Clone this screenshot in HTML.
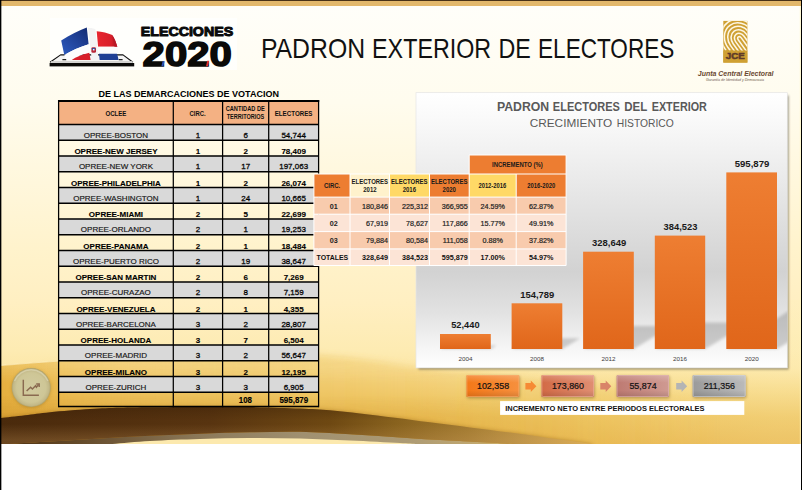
<!DOCTYPE html>
<html><head><meta charset="utf-8"><title>Padron Exterior de Electores</title>
<style>
html,body{margin:0;padding:0;background:#fff;}
body{width:802px;height:490px;overflow:hidden;position:relative;font-family:"Liberation Sans",sans-serif;}
svg{position:absolute;left:0;top:0;display:block;}
text{font-family:"Liberation Sans",sans-serif;}
</style></head><body>
<svg width="802" height="490" viewBox="0 0 802 490">
<defs>
<linearGradient id="bg" gradientUnits="userSpaceOnUse" x1="0" y1="0" x2="0" y2="444">
 <stop offset="0" stop-color="#fffefa"/>
 <stop offset="0.23" stop-color="#fffcee"/>
 <stop offset="0.45" stop-color="#fff6d8"/>
 <stop offset="0.56" stop-color="#fff3cc"/>
 <stop offset="0.68" stop-color="#ffefc2"/>
 <stop offset="0.79" stop-color="#fdebb2"/>
 <stop offset="0.83" stop-color="#fce7a8"/>
 <stop offset="0.88" stop-color="#f5d682"/>
 <stop offset="0.94" stop-color="#ecc058"/>
 <stop offset="1" stop-color="#e6b246"/>
</linearGradient>
<linearGradient id="bgr" gradientUnits="userSpaceOnUse" x1="0" y1="0" x2="801" y2="0">
 <stop offset="0.5" stop-color="#fff0b8" stop-opacity="0"/>
 <stop offset="0.97" stop-color="#fff0b8" stop-opacity="0.28"/>
 <stop offset="1" stop-color="#fff0b8" stop-opacity="0.28"/>
</linearGradient>
<linearGradient id="gold" gradientUnits="userSpaceOnUse" x1="0" y1="0" x2="720" y2="0">
 <stop offset="0" stop-color="#e4ad3c" stop-opacity="0.95"/>
 <stop offset="0.083" stop-color="#e6b040" stop-opacity="0.8"/>
 <stop offset="0.42" stop-color="#e8b648" stop-opacity="0.5"/>
 <stop offset="0.6" stop-color="#e9b84a" stop-opacity="0.34"/>
 <stop offset="0.85" stop-color="#e9b84a" stop-opacity="0.18"/>
 <stop offset="1" stop-color="#e9b84a" stop-opacity="0"/>
</linearGradient>
<linearGradient id="gmg" gradientUnits="userSpaceOnUse" x1="0" y1="0" x2="600" y2="0">
 <stop offset="0" stop-color="#fff"/><stop offset="0.5" stop-color="#999"/><stop offset="1" stop-color="#000"/>
</linearGradient>
<linearGradient id="goldv" gradientUnits="userSpaceOnUse" x1="0" y1="360" x2="0" y2="418">
 <stop offset="0" stop-color="#fff0b0" stop-opacity="0.35"/>
 <stop offset="0.4" stop-color="#fff0b0" stop-opacity="0"/>
 <stop offset="0.6" stop-color="#b87818" stop-opacity="0"/>
 <stop offset="1" stop-color="#b87818" stop-opacity="0.3"/>
</linearGradient>
<linearGradient id="swoosh" gradientUnits="userSpaceOnUse" x1="0" y1="0" x2="600" y2="0">
 <stop offset="0" stop-color="#4a2a0c"/>
 <stop offset="0.35" stop-color="#583410"/>
 <stop offset="0.55" stop-color="#6e4812"/>
 <stop offset="0.66" stop-color="#88621e"/>
 <stop offset="0.78" stop-color="#a27a30"/>
 <stop offset="0.9" stop-color="#c49a48"/>
 <stop offset="1" stop-color="#e2b454"/>
</linearGradient>
<linearGradient id="under" gradientUnits="userSpaceOnUse" x1="0" y1="0" x2="520" y2="0">
 <stop offset="0" stop-color="#4e300f"/>
 <stop offset="0.15" stop-color="#644a2a"/>
 <stop offset="0.38" stop-color="#8b7858"/>
 <stop offset="0.58" stop-color="#a09070"/>
 <stop offset="0.78" stop-color="#ac9a74"/>
 <stop offset="0.9" stop-color="#bea670"/>
 <stop offset="1" stop-color="#d4b060"/>
</linearGradient>
<linearGradient id="swooshv" gradientUnits="userSpaceOnUse" x1="0" y1="408" x2="0" y2="440">
 <stop offset="0" stop-color="#2a1400" stop-opacity="0.25"/>
 <stop offset="0.4" stop-color="#2a1400" stop-opacity="0"/>
 <stop offset="0.5" stop-color="#d0a060" stop-opacity="0"/>
 <stop offset="1" stop-color="#d0a060" stop-opacity="0.25"/>
</linearGradient>
<linearGradient id="panel" x1="0" y1="0" x2="0" y2="1">
 <stop offset="0" stop-color="#ffffff"/>
 <stop offset="0.12" stop-color="#f8f8f8"/>
 <stop offset="0.4" stop-color="#e4e4e4"/>
 <stop offset="0.65" stop-color="#d2d2d2"/>
 <stop offset="0.8" stop-color="#e2e2e2"/>
 <stop offset="0.93" stop-color="#f6f6f6"/>
 <stop offset="1" stop-color="#ffffff"/>
</linearGradient>
<linearGradient id="fb" x1="0" y1="1" x2="1" y2="0"><stop offset="0" stop-color="#2e5cc0"/><stop offset="0.6" stop-color="#1f3f94"/><stop offset="1" stop-color="#122a70"/></linearGradient>
<linearGradient id="fr" x1="0" y1="0" x2="1" y2="0"><stop offset="0" stop-color="#e8252f"/><stop offset="0.7" stop-color="#d81f2a"/><stop offset="1" stop-color="#a8141e"/></linearGradient>
<linearGradient id="bar" x1="0" y1="0" x2="0" y2="1">
 <stop offset="0" stop-color="#ee7e32"/>
 <stop offset="1" stop-color="#e0661a"/>
</linearGradient>
<filter id="blur2" x="-20%" y="-20%" width="140%" height="140%"><feGaussianBlur stdDeviation="2"/></filter>
<filter id="blur09" x="-5%" y="-5%" width="110%" height="110%"><feGaussianBlur stdDeviation="0.9"/></filter>
<filter id="blur1" x="-20%" y="-30%" width="140%" height="160%"><feGaussianBlur stdDeviation="1.4"/></filter>
<filter id="blur3" x="-5%" y="-20%" width="110%" height="140%"><feGaussianBlur stdDeviation="3.2"/></filter>
</defs>

<clipPath id="slide"><rect x="1" y="0" width="800" height="444"/></clipPath>
<g clip-path="url(#slide)">
<rect x="1" y="0" width="800" height="444" fill="url(#bg)"/>
<rect x="1" y="300" width="800" height="144" fill="url(#bgr)"/>
<linearGradient id="mAg" gradientUnits="userSpaceOnUse" x1="40" y1="0" x2="260" y2="0"><stop offset="0" stop-color="#000"/><stop offset="1" stop-color="#fff"/></linearGradient>
<linearGradient id="mBg" gradientUnits="userSpaceOnUse" x1="40" y1="0" x2="260" y2="0"><stop offset="0" stop-color="#fff"/><stop offset="1" stop-color="#000"/></linearGradient>
<mask id="mA"><rect x="0" y="330" width="802" height="130" fill="url(#mAg)"/></mask>
<mask id="mB"><rect x="0" y="330" width="802" height="130" fill="url(#mBg)"/></mask>
<g mask="url(#mA)"><path d="M-20,366.5 L1,365.4 C10.8,364.67 35.2,362.48 60.0,361.00 C84.8,359.52 118.3,357.58 150.0,356.50 C181.7,355.42 222.0,354.65 250.0,354.50 C278.0,354.35 298.0,354.60 318.0,355.60 C338.0,356.60 353.8,358.60 370.0,360.50 C386.2,362.40 397.0,364.83 415.0,367.00 C433.0,369.17 453.8,371.00 478.0,373.50 C502.2,376.00 533.0,378.92 560.0,382.00 C587.0,385.08 613.3,388.33 640.0,392.00 C666.7,395.67 706.7,402.00 720.0,404.00 L720,475 L-20,475 Z" fill="url(#gold)" filter="url(#blur3)"/></g>
<g mask="url(#mB)"><path d="M-20,366.5 L1,365.4 C10.8,364.67 35.2,362.48 60.0,361.00 C84.8,359.52 118.3,357.58 150.0,356.50 C181.7,355.42 222.0,354.65 250.0,354.50 C278.0,354.35 298.0,354.60 318.0,355.60 C338.0,356.60 353.8,358.60 370.0,360.50 C386.2,362.40 397.0,364.83 415.0,367.00 C433.0,369.17 453.8,371.00 478.0,373.50 C502.2,376.00 533.0,378.92 560.0,382.00 C587.0,385.08 613.3,388.33 640.0,392.00 C666.7,395.67 706.7,402.00 720.0,404.00 L720,475 L-20,475 Z" fill="url(#gold)"/></g>
<mask id="gm"><rect x="0" y="340" width="802" height="110" fill="url(#gmg)"/></mask>
<path d="M-20,366.5 L1,365.4 C10.8,364.67 35.2,362.48 60.0,361.00 C84.8,359.52 118.3,357.58 150.0,356.50 C181.7,355.42 222.0,354.65 250.0,354.50 C278.0,354.35 298.0,354.60 318.0,355.60 C338.0,356.60 353.8,358.60 370.0,360.50 C386.2,362.40 397.0,364.83 415.0,367.00 C433.0,369.17 453.8,371.00 478.0,373.50 C502.2,376.00 533.0,378.92 560.0,382.00 C587.0,385.08 613.3,388.33 640.0,392.00 C666.7,395.67 706.7,402.00 720.0,404.00 L720,475 L-20,475 Z" fill="url(#goldv)" opacity="0.9" mask="url(#gm)"/>
<path d="M1,365.4 C10.8,364.67 35.2,362.48 60.0,361.00 C84.8,359.52 118.3,357.58 150.0,356.50 C181.7,355.42 222.0,354.65 250.0,354.50 C278.0,354.35 298.0,354.60 318.0,355.60 C338.0,356.60 353.8,358.60 370.0,360.50 C386.2,362.40 397.0,364.83 415.0,367.00 C433.0,369.17 453.8,371.00 478.0,373.50 C502.2,376.00 533.0,378.92 560.0,382.00 C587.0,385.08 613.3,388.33 640.0,392.00 C666.7,395.67 706.7,402.00 720.0,404.00" fill="none" stroke="#fff6d0" stroke-opacity="0.55" stroke-width="1.2" mask="url(#mB)"/>
<path d="M1,418 C5.0,417.53 16.8,416.17 25.0,415.20 C33.2,414.23 39.2,413.23 50.0,412.20 C60.8,411.17 78.3,409.73 90.0,409.00 C101.7,408.27 110.0,408.08 120.0,407.80 C130.0,407.52 136.7,407.43 150.0,407.30 C163.3,407.17 183.3,407.03 200.0,407.00 C216.7,406.97 233.3,406.83 250.0,407.10 C266.7,407.37 286.7,408.07 300.0,408.60 C313.3,409.13 320.0,409.50 330.0,410.30 C340.0,411.10 349.2,412.17 360.0,413.40 C370.8,414.63 383.3,416.22 395.0,417.70 C406.7,419.18 417.5,420.68 430.0,422.30 C442.5,423.92 456.7,425.68 470.0,427.40 C483.3,429.12 497.5,430.93 510.0,432.60 C522.5,434.27 535.0,436.03 545.0,437.40 C555.0,438.77 562.2,439.70 570.0,440.80 C577.8,441.90 588.3,443.47 592.0,444.00 L592,460 L1,460 Z" fill="#7a4a10" opacity="0.4" filter="url(#blur2)"/>
<path d="M1,444.5 C9.2,444.02 33.5,442.60 50.0,441.60 C66.5,440.60 83.3,439.47 100.0,438.50 C116.7,437.53 133.3,436.60 150.0,435.80 C166.7,435.00 183.3,434.28 200.0,433.70 C216.7,433.12 233.3,432.62 250.0,432.30 C266.7,431.98 283.3,431.48 300.0,431.80 C316.7,432.12 333.3,433.27 350.0,434.20 C366.7,435.13 383.3,436.33 400.0,437.40 C416.7,438.47 433.3,439.63 450.0,440.60 C466.7,441.57 488.3,442.60 500.0,443.20 C511.7,443.80 516.7,444.03 520.0,444.20 L520,446 L1,446 Z" fill="url(#under)"/>
<path d="M110,444.2 C116.7,443.67 135.0,441.87 150.0,441.00 C165.0,440.13 183.3,439.50 200.0,439.00 C216.7,438.50 233.3,438.08 250.0,438.00 C266.7,437.92 283.3,438.08 300.0,438.50 C316.7,438.92 333.3,439.75 350.0,440.50 C366.7,441.25 388.3,442.38 400.0,443.00 C411.7,443.62 416.7,444.00 420.0,444.20 L420,446 L110,446 Z" fill="#fce9ae"/>
<path d="M1,418 C5.0,417.53 16.8,416.17 25.0,415.20 C33.2,414.23 39.2,413.23 50.0,412.20 C60.8,411.17 78.3,409.73 90.0,409.00 C101.7,408.27 110.0,408.08 120.0,407.80 C130.0,407.52 136.7,407.43 150.0,407.30 C163.3,407.17 183.3,407.03 200.0,407.00 C216.7,406.97 233.3,406.83 250.0,407.10 C266.7,407.37 286.7,408.07 300.0,408.60 C313.3,409.13 320.0,409.50 330.0,410.30 C340.0,411.10 349.2,412.17 360.0,413.40 C370.8,414.63 383.3,416.22 395.0,417.70 C406.7,419.18 417.5,420.68 430.0,422.30 C442.5,423.92 456.7,425.68 470.0,427.40 C483.3,429.12 497.5,430.93 510.0,432.60 C522.5,434.27 535.0,436.03 545.0,437.40 C555.0,438.77 562.2,439.70 570.0,440.80 C577.8,441.90 588.3,443.47 592.0,444.00 L520,444.2 C516.7,444.03 511.7,443.80 500.0,443.20 C488.3,442.60 466.7,441.57 450.0,440.60 C433.3,439.63 416.7,438.47 400.0,437.40 C383.3,436.33 366.7,435.13 350.0,434.20 C333.3,433.27 316.7,432.12 300.0,431.80 C283.3,431.48 266.7,431.98 250.0,432.30 C233.3,432.62 216.7,433.12 200.0,433.70 C183.3,434.28 166.7,435.00 150.0,435.80 C133.3,436.60 116.7,437.53 100.0,438.50 C83.3,439.47 66.5,440.60 50.0,441.60 C33.5,442.60 9.2,444.02 1.0,444.50 Z" fill="url(#swoosh)"/>
<path d="M1,418 C5.0,417.53 16.8,416.17 25.0,415.20 C33.2,414.23 39.2,413.23 50.0,412.20 C60.8,411.17 78.3,409.73 90.0,409.00 C101.7,408.27 110.0,408.08 120.0,407.80 C130.0,407.52 136.7,407.43 150.0,407.30 C163.3,407.17 183.3,407.03 200.0,407.00 C216.7,406.97 233.3,406.83 250.0,407.10 C266.7,407.37 286.7,408.07 300.0,408.60 C313.3,409.13 320.0,409.50 330.0,410.30 C340.0,411.10 349.2,412.17 360.0,413.40 C370.8,414.63 383.3,416.22 395.0,417.70 C406.7,419.18 417.5,420.68 430.0,422.30 C442.5,423.92 456.7,425.68 470.0,427.40 C483.3,429.12 497.5,430.93 510.0,432.60 C522.5,434.27 535.0,436.03 545.0,437.40 C555.0,438.77 562.2,439.70 570.0,440.80 C577.8,441.90 588.3,443.47 592.0,444.00 L520,444.2 C516.7,444.03 511.7,443.80 500.0,443.20 C488.3,442.60 466.7,441.57 450.0,440.60 C433.3,439.63 416.7,438.47 400.0,437.40 C383.3,436.33 366.7,435.13 350.0,434.20 C333.3,433.27 316.7,432.12 300.0,431.80 C283.3,431.48 266.7,431.98 250.0,432.30 C233.3,432.62 216.7,433.12 200.0,433.70 C183.3,434.28 166.7,435.00 150.0,435.80 C133.3,436.60 116.7,437.53 100.0,438.50 C83.3,439.47 66.5,440.60 50.0,441.60 C33.5,442.60 9.2,444.02 1.0,444.50 Z" fill="url(#swooshv)"/>
</g>
<rect x="1" y="0" width="800" height="6" fill="#e3b86c"/>
<rect x="1" y="0" width="800" height="1" fill="#4a3218"/>
<rect x="799.8" y="6" width="1.2" height="438" fill="#fff6c0" opacity="0.6"/>
<rect x="0" y="0" width="1.35" height="490" fill="#000"/>
<rect x="801" y="0" width="1" height="490" fill="#000"/>
<text x="260.90" y="57.8" font-size="27.2" text-anchor="start" font-weight="normal" fill="#111" textLength="104.18" lengthAdjust="spacingAndGlyphs">PADRON</text>
<text x="372.09" y="57.8" font-size="27.2" text-anchor="start" font-weight="normal" fill="#111" textLength="119.09" lengthAdjust="spacingAndGlyphs">EXTERIOR</text>
<text x="498.59" y="57.8" font-size="27.2" text-anchor="start" font-weight="normal" fill="#111" textLength="32.31" lengthAdjust="spacingAndGlyphs">DE</text>
<text x="538.05" y="57.8" font-size="27.2" text-anchor="start" font-weight="normal" fill="#111" textLength="136.28" lengthAdjust="spacingAndGlyphs">ELECTORES</text>
<rect x="418.5" y="95.5" width="370.2" height="274" fill="#3a3420" opacity="0.5" filter="url(#blur09)"/>
<rect x="416" y="92.7" width="371.3" height="275.2" fill="url(#panel)" stroke="#e4e4e4" stroke-width="0.7"/>
<text x="496.89" y="110.9" font-size="12.3" text-anchor="start" font-weight="bold" fill="#595959" textLength="52.32" lengthAdjust="spacingAndGlyphs">PADRON</text>
<text x="552.87" y="110.9" font-size="12.3" text-anchor="start" font-weight="bold" fill="#595959" textLength="67.06" lengthAdjust="spacingAndGlyphs">ELECTORES</text>
<text x="624.23" y="110.9" font-size="12.3" text-anchor="start" font-weight="bold" fill="#595959" textLength="23.02" lengthAdjust="spacingAndGlyphs">DEL</text>
<text x="651.68" y="110.9" font-size="12.3" text-anchor="start" font-weight="bold" fill="#595959" textLength="55.24" lengthAdjust="spacingAndGlyphs">EXTERIOR</text>
<text x="529.70" y="126.5" font-size="10.9" text-anchor="start" font-weight="normal" fill="#595959" textLength="82.46" lengthAdjust="spacingAndGlyphs">CRECIMIENTO</text>
<text x="616.76" y="126.5" font-size="10.9" text-anchor="start" font-weight="normal" fill="#595959" textLength="57.03" lengthAdjust="spacingAndGlyphs">HISTORICO</text>
<clipPath id="pc"><rect x="416" y="92.7" width="371.3" height="275.2"/></clipPath>
<g clip-path="url(#pc)"><g fill="#000" opacity="0.17" filter="url(#blur1)">
<path d="M440,349 L490.8,349 L496.6,345.5 L445.8,345.5 Z"/>
<path d="M511.6,349 L562.3,349 L580.0,338.3 L529.3,338.3 Z"/>
<path d="M583.1,349 L633.8,349 L671.5,326.1 L620.8,326.1 Z"/>
<path d="M654.8,349 L705.2,349 L749.2,322.4 L698.8,322.4 Z"/>
<path d="M726.3,349 L777,349 L845.5,307.5 L794.8,307.5 Z"/>
</g></g>
<rect x="440" y="334" width="50.80" height="15.00" fill="url(#bar)"/>
<text x="451.21" y="328.3" font-size="9.3" text-anchor="start" font-weight="bold" fill="#1a1a1a" textLength="28.37" lengthAdjust="spacingAndGlyphs">52,440</text>
<text x="465.4" y="361" font-size="6" text-anchor="middle" font-weight="normal" fill="#404040" textLength="14" lengthAdjust="spacingAndGlyphs">2004</text>
<rect x="511.6" y="303.3" width="50.70" height="45.70" fill="url(#bar)"/>
<text x="520.21" y="297.6" font-size="9.3" text-anchor="start" font-weight="bold" fill="#1a1a1a" textLength="34.04" lengthAdjust="spacingAndGlyphs">154,789</text>
<text x="536.95" y="361" font-size="6" text-anchor="middle" font-weight="normal" fill="#404040" textLength="14" lengthAdjust="spacingAndGlyphs">2008</text>
<rect x="583.1" y="251.7" width="50.70" height="97.30" fill="url(#bar)"/>
<text x="592.08" y="246.3" font-size="9.3" text-anchor="start" font-weight="bold" fill="#1a1a1a" textLength="34.17" lengthAdjust="spacingAndGlyphs">328,649</text>
<text x="608.45" y="361" font-size="6" text-anchor="middle" font-weight="normal" fill="#404040" textLength="14" lengthAdjust="spacingAndGlyphs">2012</text>
<rect x="654.8" y="235.6" width="50.40" height="113.40" fill="url(#bar)"/>
<text x="663.59" y="230" font-size="9.3" text-anchor="start" font-weight="bold" fill="#1a1a1a" textLength="33.75" lengthAdjust="spacingAndGlyphs">384,523</text>
<text x="680.0" y="361" font-size="6" text-anchor="middle" font-weight="normal" fill="#404040" textLength="14" lengthAdjust="spacingAndGlyphs">2016</text>
<rect x="726.3" y="172.4" width="50.70" height="176.60" fill="url(#bar)"/>
<text x="734.71" y="167.1" font-size="9.3" text-anchor="start" font-weight="bold" fill="#1a1a1a" textLength="34.65" lengthAdjust="spacingAndGlyphs">595,879</text>
<text x="751.65" y="361" font-size="6" text-anchor="middle" font-weight="normal" fill="#404040" textLength="14" lengthAdjust="spacingAndGlyphs">2020</text>
<text x="98.60" y="97" font-size="9.3" text-anchor="start" font-weight="bold" fill="#000" textLength="180.30" lengthAdjust="spacingAndGlyphs">DE LAS DEMARCACIONES DE VOTACION</text>
<rect x="58.6" y="101.0" width="260.0" height="23.400000000000006" fill="#f4b183"/>
<rect x="58.6" y="124.40" width="260.0" height="15.75" fill="#d9d9d9"/>
<rect x="58.6" y="155.90" width="260.0" height="15.75" fill="#d9d9d9"/>
<rect x="58.6" y="187.40" width="260.0" height="15.75" fill="#d9d9d9"/>
<rect x="58.6" y="218.90" width="260.0" height="15.75" fill="#d9d9d9"/>
<rect x="58.6" y="250.40" width="260.0" height="15.75" fill="#d9d9d9"/>
<rect x="58.6" y="281.90" width="260.0" height="15.75" fill="#d9d9d9"/>
<rect x="58.6" y="313.40" width="260.0" height="15.75" fill="#d9d9d9"/>
<rect x="58.6" y="344.90" width="260.0" height="15.75" fill="#d9d9d9"/>
<rect x="58.6" y="376.40" width="260.0" height="15.75" fill="#d9d9d9"/>
<g stroke="#000" stroke-width="1.5">
<line x1="58.6" y1="100.1" x2="58.6" y2="407.2" stroke-width="1.25"/>
<line x1="173.3" y1="100.1" x2="173.3" y2="407.2" stroke-width="1.25"/>
<line x1="222.6" y1="100.1" x2="222.6" y2="407.2" stroke-width="1.25"/>
<line x1="268.7" y1="100.1" x2="268.7" y2="407.2" stroke-width="1.25"/>
<line x1="318.6" y1="100.1" x2="318.6" y2="407.2" stroke-width="1.25"/>
<line x1="58.0" y1="101.0" x2="319.20000000000005" y2="101.0" stroke-width="1.8"/>
<line x1="58.6" y1="124.40" x2="318.6" y2="124.40"/>
<line x1="58.6" y1="140.15" x2="318.6" y2="140.15"/>
<line x1="58.6" y1="155.90" x2="318.6" y2="155.90"/>
<line x1="58.6" y1="171.65" x2="318.6" y2="171.65"/>
<line x1="58.6" y1="187.40" x2="318.6" y2="187.40"/>
<line x1="58.6" y1="203.15" x2="318.6" y2="203.15"/>
<line x1="58.6" y1="218.90" x2="318.6" y2="218.90"/>
<line x1="58.6" y1="234.65" x2="318.6" y2="234.65"/>
<line x1="58.6" y1="250.40" x2="318.6" y2="250.40"/>
<line x1="58.6" y1="266.15" x2="318.6" y2="266.15"/>
<line x1="58.6" y1="281.90" x2="318.6" y2="281.90"/>
<line x1="58.6" y1="297.65" x2="318.6" y2="297.65"/>
<line x1="58.6" y1="313.40" x2="318.6" y2="313.40"/>
<line x1="58.6" y1="329.15" x2="318.6" y2="329.15"/>
<line x1="58.6" y1="344.90" x2="318.6" y2="344.90"/>
<line x1="58.6" y1="360.65" x2="318.6" y2="360.65"/>
<line x1="58.6" y1="376.40" x2="318.6" y2="376.40"/>
<line x1="58.6" y1="392.15" x2="318.6" y2="392.15"/>
<line x1="58.6" y1="406.5" x2="318.6" y2="406.5"/>
</g>
<text x="105.45" y="115.9" font-size="7.3" text-anchor="start" font-weight="bold" fill="#111" textLength="20.99" lengthAdjust="spacingAndGlyphs">OCLEE</text>
<text x="189.56" y="115.9" font-size="7.3" text-anchor="start" font-weight="bold" fill="#111" textLength="16.05" lengthAdjust="spacingAndGlyphs">CIRC.</text>
<text x="225.67" y="110.9" font-size="6.5" text-anchor="start" font-weight="bold" fill="#111" textLength="39.16" lengthAdjust="spacingAndGlyphs">CANTIDAD DE</text>
<text x="226.64" y="119.4" font-size="6.5" text-anchor="start" font-weight="bold" fill="#111" textLength="37.68" lengthAdjust="spacingAndGlyphs">TERRITORIOS</text>
<text x="274.69" y="115.9" font-size="7.3" text-anchor="start" font-weight="bold" fill="#111" textLength="37.75" lengthAdjust="spacingAndGlyphs">ELECTORES</text>
<text x="115.95" y="137.65" font-size="8" text-anchor="middle" font-weight="normal" fill="#1c1c1c" stroke="#000" stroke-width="0.15">OPREE-BOSTON</text>
<text x="197.95" y="137.65" font-size="8" text-anchor="middle" font-weight="normal" fill="#1c1c1c" stroke="#000" stroke-width="0.3">1</text>
<text x="245.64999999999998" y="137.65" font-size="8" text-anchor="middle" font-weight="normal" fill="#1c1c1c" stroke="#000" stroke-width="0.3">6</text>
<text x="293.65" y="137.65" font-size="8" text-anchor="middle" font-weight="normal" fill="#1c1c1c" stroke="#000" stroke-width="0.3">54,744</text>
<text x="115.95" y="154.00" font-size="8" text-anchor="middle" font-weight="bold" fill="#000" stroke="#000" stroke-width="0.12">OPREE-NEW JERSEY</text>
<text x="197.95" y="154.00" font-size="8" text-anchor="middle" font-weight="bold" fill="#000" stroke="#000" stroke-width="0.12">1</text>
<text x="245.64999999999998" y="154.00" font-size="8" text-anchor="middle" font-weight="bold" fill="#000" stroke="#000" stroke-width="0.12">2</text>
<text x="293.65" y="154.00" font-size="8" text-anchor="middle" font-weight="bold" fill="#000" stroke="#000" stroke-width="0.12">78,409</text>
<text x="115.95" y="169.15" font-size="8" text-anchor="middle" font-weight="normal" fill="#1c1c1c" stroke="#000" stroke-width="0.15">OPREE-NEW YORK</text>
<text x="197.95" y="169.15" font-size="8" text-anchor="middle" font-weight="normal" fill="#1c1c1c" stroke="#000" stroke-width="0.3">1</text>
<text x="245.64999999999998" y="169.15" font-size="8" text-anchor="middle" font-weight="normal" fill="#1c1c1c" stroke="#000" stroke-width="0.3">17</text>
<text x="293.65" y="169.15" font-size="8" text-anchor="middle" font-weight="normal" fill="#1c1c1c" stroke="#000" stroke-width="0.3">197,063</text>
<text x="115.95" y="185.50" font-size="8" text-anchor="middle" font-weight="bold" fill="#000" stroke="#000" stroke-width="0.12">OPREE-PHILADELPHIA</text>
<text x="197.95" y="185.50" font-size="8" text-anchor="middle" font-weight="bold" fill="#000" stroke="#000" stroke-width="0.12">1</text>
<text x="245.64999999999998" y="185.50" font-size="8" text-anchor="middle" font-weight="bold" fill="#000" stroke="#000" stroke-width="0.12">2</text>
<text x="293.65" y="185.50" font-size="8" text-anchor="middle" font-weight="bold" fill="#000" stroke="#000" stroke-width="0.12">26,074</text>
<text x="115.95" y="200.65" font-size="8" text-anchor="middle" font-weight="normal" fill="#1c1c1c" stroke="#000" stroke-width="0.15">OPREE-WASHINGTON</text>
<text x="197.95" y="200.65" font-size="8" text-anchor="middle" font-weight="normal" fill="#1c1c1c" stroke="#000" stroke-width="0.3">1</text>
<text x="245.64999999999998" y="200.65" font-size="8" text-anchor="middle" font-weight="normal" fill="#1c1c1c" stroke="#000" stroke-width="0.3">24</text>
<text x="293.65" y="200.65" font-size="8" text-anchor="middle" font-weight="normal" fill="#1c1c1c" stroke="#000" stroke-width="0.3">10,665</text>
<text x="115.95" y="217.00" font-size="8" text-anchor="middle" font-weight="bold" fill="#000" stroke="#000" stroke-width="0.12">OPREE-MIAMI</text>
<text x="197.95" y="217.00" font-size="8" text-anchor="middle" font-weight="bold" fill="#000" stroke="#000" stroke-width="0.12">2</text>
<text x="245.64999999999998" y="217.00" font-size="8" text-anchor="middle" font-weight="bold" fill="#000" stroke="#000" stroke-width="0.12">5</text>
<text x="293.65" y="217.00" font-size="8" text-anchor="middle" font-weight="bold" fill="#000" stroke="#000" stroke-width="0.12">22,699</text>
<text x="115.95" y="232.15" font-size="8" text-anchor="middle" font-weight="normal" fill="#1c1c1c" stroke="#000" stroke-width="0.15">OPREE-ORLANDO</text>
<text x="197.95" y="232.15" font-size="8" text-anchor="middle" font-weight="normal" fill="#1c1c1c" stroke="#000" stroke-width="0.3">2</text>
<text x="245.64999999999998" y="232.15" font-size="8" text-anchor="middle" font-weight="normal" fill="#1c1c1c" stroke="#000" stroke-width="0.3">1</text>
<text x="293.65" y="232.15" font-size="8" text-anchor="middle" font-weight="normal" fill="#1c1c1c" stroke="#000" stroke-width="0.3">19,253</text>
<text x="115.95" y="248.50" font-size="8" text-anchor="middle" font-weight="bold" fill="#000" stroke="#000" stroke-width="0.12">OPREE-PANAMA</text>
<text x="197.95" y="248.50" font-size="8" text-anchor="middle" font-weight="bold" fill="#000" stroke="#000" stroke-width="0.12">2</text>
<text x="245.64999999999998" y="248.50" font-size="8" text-anchor="middle" font-weight="bold" fill="#000" stroke="#000" stroke-width="0.12">1</text>
<text x="293.65" y="248.50" font-size="8" text-anchor="middle" font-weight="bold" fill="#000" stroke="#000" stroke-width="0.12">18,484</text>
<text x="115.95" y="263.65" font-size="8" text-anchor="middle" font-weight="normal" fill="#1c1c1c" stroke="#000" stroke-width="0.15">OPREE-PUERTO RICO</text>
<text x="197.95" y="263.65" font-size="8" text-anchor="middle" font-weight="normal" fill="#1c1c1c" stroke="#000" stroke-width="0.3">2</text>
<text x="245.64999999999998" y="263.65" font-size="8" text-anchor="middle" font-weight="normal" fill="#1c1c1c" stroke="#000" stroke-width="0.3">19</text>
<text x="293.65" y="263.65" font-size="8" text-anchor="middle" font-weight="normal" fill="#1c1c1c" stroke="#000" stroke-width="0.3">38,647</text>
<text x="115.95" y="280.00" font-size="8" text-anchor="middle" font-weight="bold" fill="#000" stroke="#000" stroke-width="0.12">OPREE-SAN MARTIN</text>
<text x="197.95" y="280.00" font-size="8" text-anchor="middle" font-weight="bold" fill="#000" stroke="#000" stroke-width="0.12">2</text>
<text x="245.64999999999998" y="280.00" font-size="8" text-anchor="middle" font-weight="bold" fill="#000" stroke="#000" stroke-width="0.12">6</text>
<text x="293.65" y="280.00" font-size="8" text-anchor="middle" font-weight="bold" fill="#000" stroke="#000" stroke-width="0.12">7,269</text>
<text x="115.95" y="295.15" font-size="8" text-anchor="middle" font-weight="normal" fill="#1c1c1c" stroke="#000" stroke-width="0.15">OPREE-CURAZAO</text>
<text x="197.95" y="295.15" font-size="8" text-anchor="middle" font-weight="normal" fill="#1c1c1c" stroke="#000" stroke-width="0.3">2</text>
<text x="245.64999999999998" y="295.15" font-size="8" text-anchor="middle" font-weight="normal" fill="#1c1c1c" stroke="#000" stroke-width="0.3">8</text>
<text x="293.65" y="295.15" font-size="8" text-anchor="middle" font-weight="normal" fill="#1c1c1c" stroke="#000" stroke-width="0.3">7,159</text>
<text x="115.95" y="311.50" font-size="8" text-anchor="middle" font-weight="bold" fill="#000" stroke="#000" stroke-width="0.12">OPREE-VENEZUELA</text>
<text x="197.95" y="311.50" font-size="8" text-anchor="middle" font-weight="bold" fill="#000" stroke="#000" stroke-width="0.12">2</text>
<text x="245.64999999999998" y="311.50" font-size="8" text-anchor="middle" font-weight="bold" fill="#000" stroke="#000" stroke-width="0.12">1</text>
<text x="293.65" y="311.50" font-size="8" text-anchor="middle" font-weight="bold" fill="#000" stroke="#000" stroke-width="0.12">4,355</text>
<text x="115.95" y="326.65" font-size="8" text-anchor="middle" font-weight="normal" fill="#1c1c1c" stroke="#000" stroke-width="0.15">OPREE-BARCELONA</text>
<text x="197.95" y="326.65" font-size="8" text-anchor="middle" font-weight="normal" fill="#1c1c1c" stroke="#000" stroke-width="0.3">3</text>
<text x="245.64999999999998" y="326.65" font-size="8" text-anchor="middle" font-weight="normal" fill="#1c1c1c" stroke="#000" stroke-width="0.3">2</text>
<text x="293.65" y="326.65" font-size="8" text-anchor="middle" font-weight="normal" fill="#1c1c1c" stroke="#000" stroke-width="0.3">28,807</text>
<text x="115.95" y="343.00" font-size="8" text-anchor="middle" font-weight="bold" fill="#000" stroke="#000" stroke-width="0.12">OPREE-HOLANDA</text>
<text x="197.95" y="343.00" font-size="8" text-anchor="middle" font-weight="bold" fill="#000" stroke="#000" stroke-width="0.12">3</text>
<text x="245.64999999999998" y="343.00" font-size="8" text-anchor="middle" font-weight="bold" fill="#000" stroke="#000" stroke-width="0.12">7</text>
<text x="293.65" y="343.00" font-size="8" text-anchor="middle" font-weight="bold" fill="#000" stroke="#000" stroke-width="0.12">6,504</text>
<text x="115.95" y="358.15" font-size="8" text-anchor="middle" font-weight="normal" fill="#1c1c1c" stroke="#000" stroke-width="0.15">OPREE-MADRID</text>
<text x="197.95" y="358.15" font-size="8" text-anchor="middle" font-weight="normal" fill="#1c1c1c" stroke="#000" stroke-width="0.3">3</text>
<text x="245.64999999999998" y="358.15" font-size="8" text-anchor="middle" font-weight="normal" fill="#1c1c1c" stroke="#000" stroke-width="0.3">2</text>
<text x="293.65" y="358.15" font-size="8" text-anchor="middle" font-weight="normal" fill="#1c1c1c" stroke="#000" stroke-width="0.3">56,647</text>
<text x="115.95" y="374.50" font-size="8" text-anchor="middle" font-weight="bold" fill="#000" stroke="#000" stroke-width="0.12">OPREE-MILANO</text>
<text x="197.95" y="374.50" font-size="8" text-anchor="middle" font-weight="bold" fill="#000" stroke="#000" stroke-width="0.12">3</text>
<text x="245.64999999999998" y="374.50" font-size="8" text-anchor="middle" font-weight="bold" fill="#000" stroke="#000" stroke-width="0.12">2</text>
<text x="293.65" y="374.50" font-size="8" text-anchor="middle" font-weight="bold" fill="#000" stroke="#000" stroke-width="0.12">12,195</text>
<text x="115.95" y="389.65" font-size="8" text-anchor="middle" font-weight="normal" fill="#1c1c1c" stroke="#000" stroke-width="0.15">OPREE-ZURICH</text>
<text x="197.95" y="389.65" font-size="8" text-anchor="middle" font-weight="normal" fill="#1c1c1c" stroke="#000" stroke-width="0.3">3</text>
<text x="245.64999999999998" y="389.65" font-size="8" text-anchor="middle" font-weight="normal" fill="#1c1c1c" stroke="#000" stroke-width="0.3">3</text>
<text x="293.65" y="389.65" font-size="8" text-anchor="middle" font-weight="normal" fill="#1c1c1c" stroke="#000" stroke-width="0.3">6,905</text>
<text x="238.80" y="403.1" font-size="8.3" text-anchor="start" font-weight="bold" fill="#000" textLength="13.14" lengthAdjust="spacingAndGlyphs" stroke="#000" stroke-width="0.15">108</text>
<text x="279.46" y="403.1" font-size="8.3" text-anchor="start" font-weight="bold" fill="#000" textLength="28.74" lengthAdjust="spacingAndGlyphs" stroke="#000" stroke-width="0.15">595,879</text>
<rect x="469.2" y="155" width="96.90" height="19.00" fill="#ed7d31"/>
<rect x="313.9" y="174.0" width="36.10" height="23.10" fill="#ed7d31"/>
<rect x="350.0" y="174.0" width="39.50" height="23.10" fill="#fff2cc"/>
<rect x="389.5" y="174.0" width="40.00" height="23.10" fill="#ffd966"/>
<rect x="429.5" y="174.0" width="39.70" height="23.10" fill="#ed7d31"/>
<rect x="469.2" y="174.0" width="47.00" height="23.10" fill="#ffd966"/>
<rect x="516.2" y="174.0" width="49.90" height="23.10" fill="#ed7d31"/>
<rect x="313.9" y="197.1" width="252.20" height="17.10" fill="#f8cbad"/>
<rect x="313.9" y="214.2" width="252.20" height="17.40" fill="#fce4d6"/>
<rect x="313.9" y="231.6" width="252.20" height="17.30" fill="#f8cbad"/>
<rect x="313.9" y="248.9" width="252.20" height="16.60" fill="#fce4d6"/>
<g stroke="#fff" stroke-width="1">
<line x1="313.9" y1="174.0" x2="313.9" y2="265.5"/>
<line x1="350.0" y1="174.0" x2="350.0" y2="265.5"/>
<line x1="389.5" y1="174.0" x2="389.5" y2="265.5"/>
<line x1="429.5" y1="174.0" x2="429.5" y2="265.5"/>
<line x1="469.2" y1="155" x2="469.2" y2="265.5"/>
<line x1="516.2" y1="174.0" x2="516.2" y2="265.5"/>
<line x1="566.1" y1="155" x2="566.1" y2="265.5"/>
<line x1="313.9" y1="174.0" x2="566.1" y2="174.0"/>
<line x1="313.9" y1="197.1" x2="566.1" y2="197.1"/>
<line x1="313.9" y1="214.2" x2="566.1" y2="214.2"/>
<line x1="313.9" y1="231.6" x2="566.1" y2="231.6"/>
<line x1="313.9" y1="248.9" x2="566.1" y2="248.9"/>
<line x1="313.9" y1="265.5" x2="566.1" y2="265.5"/>
<line x1="469.2" y1="155" x2="566.1" y2="155"/>
</g>
<text x="492.10" y="167.2" font-size="6.9" text-anchor="start" font-weight="bold" fill="#1a1a1a" textLength="50.59" lengthAdjust="spacingAndGlyphs">INCREMENTO (%)</text>
<text x="323.95" y="188.1" font-size="6.9" text-anchor="start" font-weight="bold" fill="#1a1a1a" textLength="16.36" lengthAdjust="spacingAndGlyphs">CIRC.</text>
<text x="351.60" y="184.1" font-size="6.9" text-anchor="start" font-weight="bold" fill="#1a1a1a" textLength="36.53" lengthAdjust="spacingAndGlyphs">ELECTORES</text>
<text x="363.29" y="192.2" font-size="6.9" text-anchor="start" font-weight="bold" fill="#1a1a1a" textLength="13.35" lengthAdjust="spacingAndGlyphs">2012</text>
<text x="391.00" y="184.1" font-size="6.9" text-anchor="start" font-weight="bold" fill="#1a1a1a" textLength="36.53" lengthAdjust="spacingAndGlyphs">ELECTORES</text>
<text x="402.69" y="192.2" font-size="6.9" text-anchor="start" font-weight="bold" fill="#1a1a1a" textLength="13.32" lengthAdjust="spacingAndGlyphs">2016</text>
<text x="430.90" y="184.1" font-size="6.9" text-anchor="start" font-weight="bold" fill="#1a1a1a" textLength="36.53" lengthAdjust="spacingAndGlyphs">ELECTORES</text>
<text x="442.59" y="192.2" font-size="6.9" text-anchor="start" font-weight="bold" fill="#1a1a1a" textLength="13.35" lengthAdjust="spacingAndGlyphs">2020</text>
<text x="478.40" y="188.2" font-size="6.6" text-anchor="start" font-weight="bold" fill="#1a1a1a" textLength="27.91" lengthAdjust="spacingAndGlyphs">2012-2016</text>
<text x="527.30" y="188.2" font-size="6.6" text-anchor="start" font-weight="bold" fill="#1a1a1a" textLength="27.94" lengthAdjust="spacingAndGlyphs">2016-2020</text>
<text x="333.8" y="208.6" font-size="7.2" text-anchor="middle" font-weight="bold" fill="#222">01</text>
<text x="388.0" y="208.6" font-size="7.2" text-anchor="end" font-weight="normal" fill="#222" stroke="#222" stroke-width="0.2">180,846</text>
<text x="428.0" y="208.6" font-size="7.2" text-anchor="end" font-weight="normal" fill="#222" stroke="#222" stroke-width="0.2">225,312</text>
<text x="467.7" y="208.6" font-size="7.2" text-anchor="end" font-weight="normal" fill="#222" stroke="#222" stroke-width="0.2">366,955</text>
<text x="492.70000000000005" y="208.6" font-size="7.2" text-anchor="middle" font-weight="normal" fill="#222" stroke="#222" stroke-width="0.2">24.59%</text>
<text x="541.1500000000001" y="208.6" font-size="7.2" text-anchor="middle" font-weight="normal" fill="#222" stroke="#222" stroke-width="0.2">62.87%</text>
<text x="333.8" y="226.2" font-size="7.2" text-anchor="middle" font-weight="bold" fill="#222">02</text>
<text x="388.0" y="226.2" font-size="7.2" text-anchor="end" font-weight="normal" fill="#222" stroke="#222" stroke-width="0.2">67,919</text>
<text x="428.0" y="226.2" font-size="7.2" text-anchor="end" font-weight="normal" fill="#222" stroke="#222" stroke-width="0.2">78,627</text>
<text x="467.7" y="226.2" font-size="7.2" text-anchor="end" font-weight="normal" fill="#222" stroke="#222" stroke-width="0.2">117,866</text>
<text x="492.70000000000005" y="226.2" font-size="7.2" text-anchor="middle" font-weight="normal" fill="#222" stroke="#222" stroke-width="0.2">15.77%</text>
<text x="541.1500000000001" y="226.2" font-size="7.2" text-anchor="middle" font-weight="normal" fill="#222" stroke="#222" stroke-width="0.2">49.91%</text>
<text x="333.8" y="243.2" font-size="7.2" text-anchor="middle" font-weight="bold" fill="#222">03</text>
<text x="388.0" y="243.2" font-size="7.2" text-anchor="end" font-weight="normal" fill="#222" stroke="#222" stroke-width="0.2">79,884</text>
<text x="428.0" y="243.2" font-size="7.2" text-anchor="end" font-weight="normal" fill="#222" stroke="#222" stroke-width="0.2">80,584</text>
<text x="467.7" y="243.2" font-size="7.2" text-anchor="end" font-weight="normal" fill="#222" stroke="#222" stroke-width="0.2">111,058</text>
<text x="492.70000000000005" y="243.2" font-size="7.2" text-anchor="middle" font-weight="normal" fill="#222" stroke="#222" stroke-width="0.2">0.88%</text>
<text x="541.1500000000001" y="243.2" font-size="7.2" text-anchor="middle" font-weight="normal" fill="#222" stroke="#222" stroke-width="0.2">37.82%</text>
<text x="332.4" y="260.3" font-size="7.2" text-anchor="middle" font-weight="bold" fill="#111" textLength="31.7" lengthAdjust="spacingAndGlyphs">TOTALES</text>
<text x="388.0" y="260.3" font-size="7.2" text-anchor="end" font-weight="bold" fill="#111">328,649</text>
<text x="428.0" y="260.3" font-size="7.2" text-anchor="end" font-weight="bold" fill="#111">384,523</text>
<text x="467.7" y="260.3" font-size="7.2" text-anchor="end" font-weight="bold" fill="#111">595,879</text>
<text x="492.70000000000005" y="260.3" font-size="7.2" text-anchor="middle" font-weight="bold" fill="#111">17.00%</text>
<text x="541.1500000000001" y="260.3" font-size="7.2" text-anchor="middle" font-weight="bold" fill="#111">54.97%</text>
<linearGradient id="bx1" x1="0" y1="0" x2="1" y2="0"><stop offset="0" stop-color="#f47818"/><stop offset="1" stop-color="#f6903e"/></linearGradient>
<linearGradient id="bx2" x1="0" y1="0" x2="1" y2="0"><stop offset="0" stop-color="#d26a46"/><stop offset="1" stop-color="#e08e72"/></linearGradient>
<linearGradient id="bx3" x1="0" y1="0" x2="1" y2="0"><stop offset="0" stop-color="#be7a72"/><stop offset="1" stop-color="#cf9a92"/></linearGradient>
<linearGradient id="bxv" x1="0" y1="0" x2="0" y2="1"><stop offset="0" stop-color="#fff" stop-opacity="0.22"/><stop offset="0.35" stop-color="#fff" stop-opacity="0"/><stop offset="0.7" stop-color="#000" stop-opacity="0"/><stop offset="1" stop-color="#000" stop-opacity="0.12"/></linearGradient>
<linearGradient id="bx4" x1="0" y1="0" x2="1" y2="0"><stop offset="0" stop-color="#9a9a9a"/><stop offset="1" stop-color="#bababa"/></linearGradient>
<rect x="467.0" y="376" width="52.90" height="22.2" rx="1.5" fill="#5a3a10" opacity="0.4" filter="url(#blur1)"/>
<rect x="466.4" y="375" width="52.90" height="22" rx="1.2" fill="url(#bx1)"/>
<rect x="466.4" y="375" width="52.90" height="22" rx="1.2" fill="url(#bxv)"/>
<rect x="466.9" y="375.5" width="51.90" height="21" rx="1.2" fill="none" stroke="#f9b070" stroke-opacity="0.6" stroke-width="1"/>
<text x="493.04999999999995" y="389.2" font-size="8.9" text-anchor="middle" font-weight="normal" fill="#111" stroke="#111" stroke-width="0.2">102,358</text>
<rect x="542.0" y="376" width="52.70" height="22.2" rx="1.5" fill="#5a3a10" opacity="0.4" filter="url(#blur1)"/>
<rect x="541.4" y="375" width="52.70" height="22" rx="1.2" fill="url(#bx2)"/>
<rect x="541.4" y="375" width="52.70" height="22" rx="1.2" fill="url(#bxv)"/>
<rect x="541.9" y="375.5" width="51.70" height="21" rx="1.2" fill="none" stroke="#eeb49c" stroke-opacity="0.6" stroke-width="1"/>
<text x="567.95" y="389.2" font-size="8.9" text-anchor="middle" font-weight="normal" fill="#111" stroke="#111" stroke-width="0.2">173,860</text>
<rect x="617.2" y="376" width="52.40" height="22.2" rx="1.5" fill="#5a3a10" opacity="0.4" filter="url(#blur1)"/>
<rect x="616.6" y="375" width="52.40" height="22" rx="1.2" fill="url(#bx3)"/>
<rect x="616.6" y="375" width="52.40" height="22" rx="1.2" fill="url(#bxv)"/>
<rect x="617.1" y="375.5" width="51.40" height="21" rx="1.2" fill="none" stroke="#e2b8b2" stroke-opacity="0.6" stroke-width="1"/>
<text x="643.0" y="389.2" font-size="8.9" text-anchor="middle" font-weight="normal" fill="#111" stroke="#111" stroke-width="0.2">55,874</text>
<rect x="693.2" y="376" width="53.10" height="22.2" rx="1.5" fill="#5a3a10" opacity="0.4" filter="url(#blur1)"/>
<rect x="692.6" y="375" width="53.10" height="22" rx="1.2" fill="url(#bx4)"/>
<rect x="692.6" y="375" width="53.10" height="22" rx="1.2" fill="url(#bxv)"/>
<rect x="693.1" y="375.5" width="52.10" height="21" rx="1.2" fill="none" stroke="#d6d6d6" stroke-opacity="0.6" stroke-width="1"/>
<text x="719.3500000000001" y="389.2" font-size="8.9" text-anchor="middle" font-weight="normal" fill="#111" stroke="#111" stroke-width="0.2">211,356</text>
<path d="M525.4,383.0 L530.8,383.0 L530.8,380.4 L536.4,386.2 L530.8,392.0 L530.8,389.4 L525.4,389.4 Z" fill="#f68a34"/>
<path d="M600.3,383.0 L605.6999999999999,383.0 L605.6999999999999,380.4 L611.3,386.2 L605.6999999999999,392.0 L605.6999999999999,389.4 L600.3,389.4 Z" fill="#d98468"/>
<path d="M676.2,383.0 L681.6,383.0 L681.6,380.4 L687.2,386.2 L681.6,392.0 L681.6,389.4 L676.2,389.4 Z" fill="#b4b4b4"/>
<rect x="500.1" y="401.1" width="244.2" height="13.8" fill="#fff"/>
<text x="505.2" y="410.6" font-size="8" text-anchor="start" font-weight="bold" fill="#111" textLength="199.3" lengthAdjust="spacingAndGlyphs">INCREMENTO NETO ENTRE PERIODOS ELECTORALES</text>
<radialGradient id="circ" cx="0.5" cy="0.5" r="0.5"><stop offset="0" stop-color="#d2cba0"/><stop offset="0.75" stop-color="#cec696"/><stop offset="0.92" stop-color="#c2b888"/><stop offset="1" stop-color="#b0a26a"/></radialGradient>
<circle cx="31.2" cy="388.2" r="19.8" fill="#8a6a20" opacity="0.35" filter="url(#blur1)"/>
<circle cx="31.2" cy="387.6" r="19.5" fill="url(#circ)"/>
<path d="M14.5,381 A18,18 0 0 1 47.9,381" fill="none" stroke="#e4dfc0" stroke-opacity="0.55" stroke-width="1.4"/>
<g fill="none" stroke="#8a6a50" stroke-width="1.45" stroke-linejoin="miter"><path d="M23.3,379.8 L23.3,395.2 L38.9,395.2"/><path d="M26.6,391 L30.6,387.2 L32.4,389 L35.6,385.8 L36.4,387.2 L38.6,384.6"/><path d="M36.2,384 L39.2,384 L39.2,387"/></g>
<rect x="50" y="18" width="187" height="52" fill="#fff" opacity="0.7"/>
<g>
<path d="M60.6,54.9 L123,54.9 L132.6,62 L50.4,62 Z" fill="#f4f4f4" stroke="#111" stroke-width="1.1" stroke-linejoin="round"/>
<rect x="49.6" y="63" width="84.6" height="3.4" fill="#0a0a0a"/>
<rect x="51" y="61.2" width="81.6" height="1.6" fill="#e8e8e8"/>
<path d="M61.2,40.6 C70,35 79,30.5 86.8,27.5 L88.6,44.3 C80,47 71,51 64.3,54.9 Z" fill="url(#fb)"/>
<path d="M64.3,54.9 C71,51 80,47 88.6,44.3 L89.4,52.5 C82,54.5 76,57 71.6,59.9 L66,59.9 Z" fill="#fdfdfd"/>
<path d="M71.8,59.9 C76,57 82,54.6 89.3,52.7 L90.6,59.9 Z" fill="#d81f2a"/>
<path d="M88,28.1 C90.5,27.6 93.5,28.2 95.5,29.4 L98.6,59.9 L91.8,59.9 Z" fill="#f3f3f3"/>
<path d="M96.7,31.2 C102,31.5 108,33 112.3,35 C114.5,38.5 116.2,42.5 117.3,46.8 L98.1,46.8 Z" fill="url(#fr)"/>
<path d="M98.1,46.8 L117.3,46.8 L118.4,53.7 L98.9,53.7 Z" fill="#fbfbfb"/>
<path d="M99,53.7 L116.9,53.7 C117.6,55.5 118.2,57.6 118.6,59.9 L99.7,59.9 Z" fill="#1f3f94"/>
<path d="M112.3,35 C114.5,38.5 116.2,42.5 117.3,46.8 L114.5,46.8 C113.8,42.5 113,38.5 112.3,35 Z" fill="#b81826"/>
<rect x="91.4" y="47.2" width="4.6" height="5.6" rx="1.4" fill="#b8283a"/><rect x="92.2" y="48" width="3" height="2" fill="#2a4a9a"/><rect x="92.9" y="48.9" width="1.6" height="1.6" fill="#f0f0f0"/>
<path d="M62.4,59.6 L66.2,59.6 M118.8,59.6 L122.6,59.6" stroke="#222" stroke-width="1.1"/>
</g>
<text x="140.75" y="35.8" font-size="13.5" text-anchor="start" font-weight="bold" fill="#0a0a0a" textLength="92.41" lengthAdjust="spacingAndGlyphs" stroke="#0a0a0a" stroke-width="1.0" stroke-linejoin="round">ELECCIONES</text>
<text x="142.61" y="65.5" font-size="34.7" text-anchor="start" font-weight="bold" fill="#0a0a0a" textLength="89.24" lengthAdjust="spacingAndGlyphs" stroke="#0a0a0a" stroke-width="1.5">2020</text>
<path d="M162.6,61.3 L164.6,61.3 L163.4,66.2 L161.4,66.2 Z" fill="#2a50b8"/>
<path d="M207.2,60.8 L209.2,60.8 L208,66.2 L206,66.2 Z" fill="#e03030"/>
<clipPath id="jc"><rect x="723.3" y="20.9" width="24.1" height="41.7"/></clipPath>
<rect x="723.3" y="20.9" width="24.1" height="41.7" fill="#cfa033"/>
<g clip-path="url(#jc)"><g fill="none" stroke="#fdf6e4" stroke-width="1.55" stroke-linecap="round" transform="rotate(-36 739.5 38.5)">
<path d="M737.70,54.29 L737.70,39 A1.8,2.40 0 0 1 741.30,39 L741.30,60"/>
<path d="M734.50,51.25 L734.50,39 A5.0,6.00 0 0 1 744.50,39 L744.50,60"/>
<path d="M731.30,48.21 L731.30,39 A8.2,9.60 0 0 1 747.70,39 L747.70,60"/>
<path d="M728.10,45.17 L728.10,39 A11.4,13.20 0 0 1 750.90,39 L750.90,60"/>
<path d="M724.90,42.13 L724.90,39 A14.6,16.80 0 0 1 754.10,39 L754.10,60"/>
<path d="M721.70,39.50 L721.70,39 A17.8,20.40 0 0 1 757.30,39 L757.30,60"/>
</g></g>
<rect x="723.3" y="50.5" width="24.1" height="12.1" fill="#cfa033"/>
<text x="735.3" y="58.8" font-size="8.4" text-anchor="middle" font-weight="bold" fill="#5e3a28" textLength="18.9" lengthAdjust="spacingAndGlyphs" stroke="#5e3a28" stroke-width="0.5">JCE</text>
<text x="697.82" y="75.6" font-size="8" text-anchor="start" font-weight="bold" fill="#6a4830" textLength="75.67" lengthAdjust="spacingAndGlyphs" font-style="italic">Junta Central Electoral</text>
<text x="735" y="80.8" font-size="3.6" text-anchor="middle" font-weight="normal" fill="#6a5a4a" textLength="58" lengthAdjust="spacingAndGlyphs" font-style="italic">Garantía de Identidad y Democracia</text>
</svg></body></html>
